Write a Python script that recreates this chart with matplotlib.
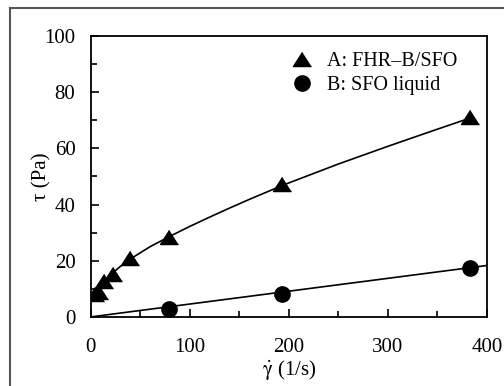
import matplotlib
matplotlib.use("Agg")
import matplotlib.pyplot as plt
from matplotlib.lines import Line2D
from matplotlib.ticker import MultipleLocator

# shear rate (1/s) and shear stress (Pa)
rate_a = [4, 8, 13, 22, 40, 79, 193, 383]
stress_a = [8.2, 9.0, 12.6, 15.3, 20.9, 28.6, 47.2, 71.2]
rate_b = [79, 193, 383]
stress_b = [2.7, 8.1, 17.3]

# fitted curves as drawn
fit_a_x = [4, 10, 20, 30, 40, 60, 80, 100, 120, 140, 160, 195, 250, 300, 350, 385]
fit_a_y = [8.0, 11.4, 15.0, 18.0, 20.6, 25.0, 28.7, 32.2, 35.5, 38.7, 41.8,
           47.0, 54.4, 60.7, 66.8, 71.0]
fit_b_x = [0, 400]
fit_b_y = [0, 18.3]

plt.rcParams['font.family'] = 'serif'
plt.rcParams['font.serif'] = ['Liberation Serif', 'DejaVu Serif']
plt.rcParams['mathtext.fontset'] = 'stix'

# flatter triangle like the original
tri = [(0, 0.78), (-1, -0.78), (1, -0.78)]

fig = plt.figure(figsize=(5.04, 3.86), dpi=100)
ax = fig.add_axes([0.18, 0.179, 0.786, 0.728])

ax.plot(fit_a_x, fit_a_y, color='black', lw=1.2)
ax.plot(fit_b_x, fit_b_y, color='black', lw=1.2)
ax.plot(rate_a, stress_a, marker=tri, ls='none', color='black', ms=13,
        label='A: FHR\u2013B/SFO')
ax.plot(rate_b, stress_b, 'o', color='black', ms=11, label='B: SFO liquid')

ax.set_xlim(0, 400)
ax.set_ylim(0, 100)
ax.xaxis.set_major_locator(MultipleLocator(100))
ax.xaxis.set_minor_locator(MultipleLocator(50))
ax.yaxis.set_major_locator(MultipleLocator(20))
ax.yaxis.set_minor_locator(MultipleLocator(10))
ax.tick_params(which='both', direction='in', labelsize=15, width=1.2)
ax.tick_params(which='major', length=6)
ax.tick_params(axis='x', which='major', pad=15)
ax.tick_params(axis='y', which='major', pad=11)
ax.tick_params(which='minor', length=4)
for s in ax.spines.values():
    s.set_linewidth(1.3)

ax.set_xlabel(r'$\dot{\mathrm{\gamma}}$ (1/s)', fontsize=15, labelpad=1)
ax.set_ylabel('\u03c4 (Pa)', fontsize=15, labelpad=-5)

ax.legend(loc='upper right', frameon=False, fontsize=14.5, handletextpad=0.2,
          borderpad=0.3, labelspacing=0.25, bbox_to_anchor=(0.965, 1.0))

# grey frame around the figure (left and top edges)
fig.add_artist(Line2D([9.5 / 504, 9.5 / 504], [0, 1 - 8 / 386], color='#555555', lw=1.5))
fig.add_artist(Line2D([9.5 / 504, 1], [1 - 8 / 386, 1 - 8 / 386], color='#555555', lw=1.5))

fig.savefig('out.png', dpi=100)
